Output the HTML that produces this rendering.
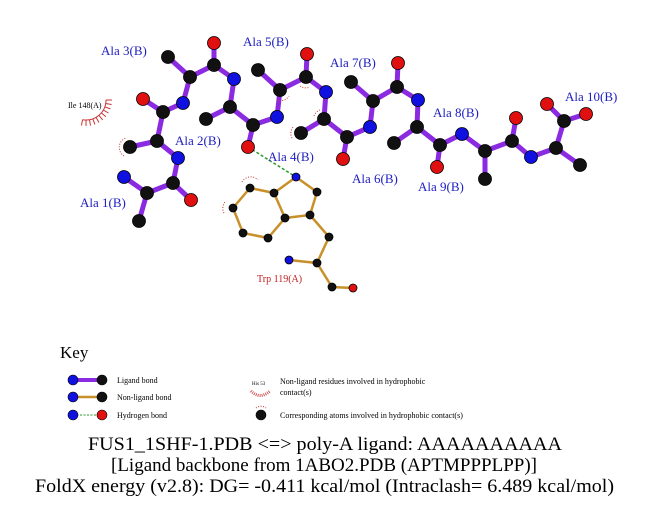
<!DOCTYPE html>
<html><head><meta charset="utf-8"><style>
html,body{margin:0;padding:0;background:#fff}
svg{display:block}
.t{font-family:"Liberation Serif",serif}
</style></head><body>
<svg width="651" height="511" viewBox="0 0 651 511" xmlns="http://www.w3.org/2000/svg">
<g stroke="#8a2be2" stroke-width="5" stroke-linecap="round" fill="none">
<polyline points="139,221 147,193 173,183 178,158 157,141 163,112 183,103 190,77 214,65 234,79 230,107 253,125 277,117 280,90 306,77 326,92 324,119 347,137 370,127 373,101 397,87 418,100 417,127 440,145 462,134 485,151 512,141 531,157 556,148 564,121"/>
<line x1="124" y1="177" x2="147" y2="193"/><line x1="173" y1="183" x2="191" y2="200"/>
<line x1="157" y1="141" x2="130" y2="147"/><line x1="163" y1="112" x2="143" y2="99"/>
<line x1="190" y1="77" x2="168" y2="57"/><line x1="214" y1="65" x2="214" y2="43"/>
<line x1="230" y1="107" x2="206" y2="119"/><line x1="253" y1="125" x2="248" y2="147"/>
<line x1="280" y1="90" x2="258" y2="70"/><line x1="306" y1="77" x2="307" y2="54"/>
<line x1="324" y1="119" x2="301" y2="133"/><line x1="347" y1="137" x2="343" y2="159"/>
<line x1="373" y1="101" x2="351" y2="82"/><line x1="397" y1="87" x2="398" y2="63"/>
<line x1="417" y1="127" x2="394" y2="143"/><line x1="440" y1="145" x2="437" y2="167"/>
<line x1="485" y1="151" x2="485" y2="179"/><line x1="512" y1="141" x2="516" y2="118"/>
<line x1="556" y1="148" x2="580" y2="165"/><line x1="564" y1="121" x2="547" y2="104"/>
<line x1="564" y1="121" x2="586" y2="114"/>
</g>
<g stroke="#c8902a" stroke-width="2.5" fill="none">
<polyline points="317,192 296,177 274,193 250,188 233,208 243,233 268,238 285,218 274,193"/>
<polyline points="285,218 310,215 317,192"/>
<polyline points="310,215 329,237 317,263 289,260"/>
<polyline points="317,263 332,287 353,288"/>
</g>
<line x1="248" y1="147" x2="296" y2="177" stroke="#2a9a2a" stroke-width="1.5" stroke-dasharray="3,2"/>
<g stroke="#c33" stroke-width="1" fill="none" stroke-dasharray="1,1.6">
<path d="M124,156 A10,10 0 0 1 126,138"/>
<path d="M242,182 A10,10 0 0 1 258,180"/>
<path d="M224,213 A10,10 0 0 1 226,201"/>
<path d="M292,138 A10,10 0 0 1 294,126"/>
<path d="M314,116 A10,10 0 0 1 320,110"/>
<path d="M277,100 A10,10 0 0 0 289,96"/>
<path d="M300,86 A10,10 0 0 0 310,87"/>
</g>
<g stroke="#c33" stroke-width="1">
<path d="M106,100 A20,20 0 0 1 82.5,119.7" fill="none"/>
<line x1="106" y1="100" x2="112" y2="100"/><line x1="105.7" y1="103.5" x2="111.6" y2="104.5"/>
<line x1="104.8" y1="106.8" x2="110.4" y2="108.9"/><line x1="103.3" y1="110" x2="108.5" y2="113"/>
<line x1="101.3" y1="112.9" x2="105.9" y2="116.7"/><line x1="98.9" y1="115.3" x2="102.7" y2="119.9"/>
<line x1="96" y1="117.3" x2="99" y2="122.5"/><line x1="92.8" y1="118.8" x2="94.9" y2="124.4"/>
<line x1="89.5" y1="119.7" x2="90.5" y2="125.6"/><line x1="86" y1="120" x2="86" y2="126"/>
<line x1="82.5" y1="119.7" x2="81.5" y2="125.6"/>
</g>
<g stroke="#000" stroke-width="0.8">
<g fill="#111">
<circle cx="139" cy="221" r="6.5"/><circle cx="147" cy="193" r="6.5"/><circle cx="173" cy="183" r="6.5"/>
<circle cx="157" cy="141" r="6.5"/><circle cx="130" cy="147" r="6.5"/><circle cx="163" cy="112" r="6.5"/>
<circle cx="190" cy="77" r="6.5"/><circle cx="168" cy="57" r="6.5"/><circle cx="214" cy="65" r="6.5"/>
<circle cx="230" cy="107" r="6.5"/><circle cx="206" cy="119" r="6.5"/><circle cx="253" cy="125" r="6.5"/>
<circle cx="280" cy="90" r="6.5"/><circle cx="258" cy="70" r="6.5"/><circle cx="306" cy="77" r="6.5"/>
<circle cx="324" cy="119" r="6.5"/><circle cx="301" cy="133" r="6.5"/><circle cx="347" cy="137" r="6.5"/>
<circle cx="373" cy="101" r="6.5"/><circle cx="351" cy="82" r="6.5"/><circle cx="397" cy="87" r="6.5"/>
<circle cx="417" cy="127" r="6.5"/><circle cx="394" cy="143" r="6.5"/><circle cx="440" cy="145" r="6.5"/>
<circle cx="485" cy="151" r="6.5"/><circle cx="485" cy="179" r="6.5"/><circle cx="512" cy="141" r="6.5"/>
<circle cx="556" cy="148" r="6.5"/><circle cx="580" cy="165" r="6.5"/><circle cx="564" cy="121" r="6.5"/>
<circle cx="317" cy="192" r="4"/><circle cx="274" cy="193" r="4"/><circle cx="250" cy="188" r="4"/>
<circle cx="233" cy="208" r="4"/><circle cx="243" cy="233" r="4"/><circle cx="268" cy="238" r="4"/>
<circle cx="285" cy="218" r="4"/><circle cx="310" cy="215" r="4"/><circle cx="329" cy="237" r="4"/>
<circle cx="317" cy="263" r="4"/><circle cx="332" cy="287" r="4"/>
</g>
<g fill="#1010e0">
<circle cx="124" cy="177" r="6.5"/><circle cx="178" cy="158" r="6.5"/><circle cx="183" cy="103" r="6.5"/>
<circle cx="234" cy="79" r="6.5"/><circle cx="277" cy="117" r="6.5"/><circle cx="326" cy="92" r="6.5"/>
<circle cx="370" cy="127" r="6.5"/><circle cx="418" cy="100" r="6.5"/><circle cx="462" cy="134" r="6.5"/>
<circle cx="531" cy="157" r="6.5"/><circle cx="296" cy="177" r="4"/><circle cx="289" cy="260" r="4"/>
</g>
<g fill="#e01010">
<circle cx="191" cy="200" r="6.5"/><circle cx="143" cy="99" r="6.5"/><circle cx="214" cy="43" r="6.5"/>
<circle cx="248" cy="147" r="6.5"/><circle cx="307" cy="54" r="6.5"/><circle cx="343" cy="159" r="6.5"/>
<circle cx="398" cy="63" r="6.5"/><circle cx="437" cy="167" r="6.5"/><circle cx="516" cy="118" r="6.5"/>
<circle cx="547" cy="104" r="6.5"/><circle cx="586" cy="114" r="6.5"/><circle cx="353" cy="288" r="4"/>
</g>
</g>
<g class="t" fill="#2020c0" font-size="13">
<text x="101" y="55">Ala 3(B)</text><text x="243" y="46">Ala 5(B)</text>
<text x="175" y="145">Ala 2(B)</text><text x="268" y="161">Ala 4(B)</text>
<text x="80" y="207">Ala 1(B)</text><text x="330" y="67">Ala 7(B)</text>
<text x="352" y="183">Ala 6(B)</text><text x="433" y="117">Ala 8(B)</text>
<text x="418" y="191">Ala 9(B)</text><text x="565" y="101">Ala 10(B)</text>
</g>
<text class="t" x="68" y="108" font-size="8" fill="#000">Ile 148(A)</text>
<text class="t" x="257" y="282" font-size="10" fill="#c02020">Trp 119(A)</text>
<text class="t" x="60" y="358" font-size="17" fill="#000">Key</text>
<line x1="73" y1="380" x2="102" y2="380" stroke="#8a2be2" stroke-width="4"/>
<line x1="73" y1="397" x2="102" y2="397" stroke="#c8902a" stroke-width="2.5"/>
<line x1="73" y1="415" x2="102" y2="415" stroke="#2a9a2a" stroke-width="1" stroke-dasharray="2,1.5"/>
<g stroke="#000" stroke-width="0.6">
<circle cx="73" cy="380" r="5" fill="#1010e0"/><circle cx="102" cy="380" r="5" fill="#111"/>
<circle cx="73" cy="397" r="5" fill="#1010e0"/><circle cx="102" cy="397" r="5" fill="#111"/>
<circle cx="73" cy="415" r="5" fill="#1010e0"/><circle cx="102" cy="415" r="5" fill="#e01010"/>
<circle cx="261" cy="415" r="5" fill="#111"/>
</g>
<path d="M256,408 A8,8 0 0 1 266,408" fill="none" stroke="#c33" stroke-width="1" stroke-dasharray="1,1.5"/>
<text class="t" x="252" y="385" font-size="5" fill="#000">His 53</text>
<path d="M251,391 Q260,400 270,391" fill="none" stroke="#c33" stroke-width="3" stroke-dasharray="0.8,1.2"/>
<g class="t" font-size="8" fill="#000">
<text x="117" y="383">Ligand bond</text><text x="117" y="400">Non-ligand bond</text>
<text x="117" y="418">Hydrogen bond</text>
<text x="280" y="384">Non-ligand residues involved in hydrophobic</text>
<text x="280" y="395">contact(s)</text>
<text x="280" y="418">Corresponding atoms involved in hydrophobic contact(s)</text>
</g>
<g class="t" font-size="18.5" fill="#000">
<text x="88" y="450" textLength="474" lengthAdjust="spacingAndGlyphs">FUS1_1SHF-1.PDB &lt;=&gt; poly-A ligand: AAAAAAAAAA</text>
<text x="111" y="471" textLength="426" lengthAdjust="spacingAndGlyphs">[Ligand backbone from 1ABO2.PDB (APTMPPPLPP)]</text>
<text x="35" y="492" textLength="579" lengthAdjust="spacingAndGlyphs">FoldX energy (v2.8): DG= -0.411 kcal/mol (Intraclash= 6.489 kcal/mol)</text>
</g>
</svg>
</body></html>
